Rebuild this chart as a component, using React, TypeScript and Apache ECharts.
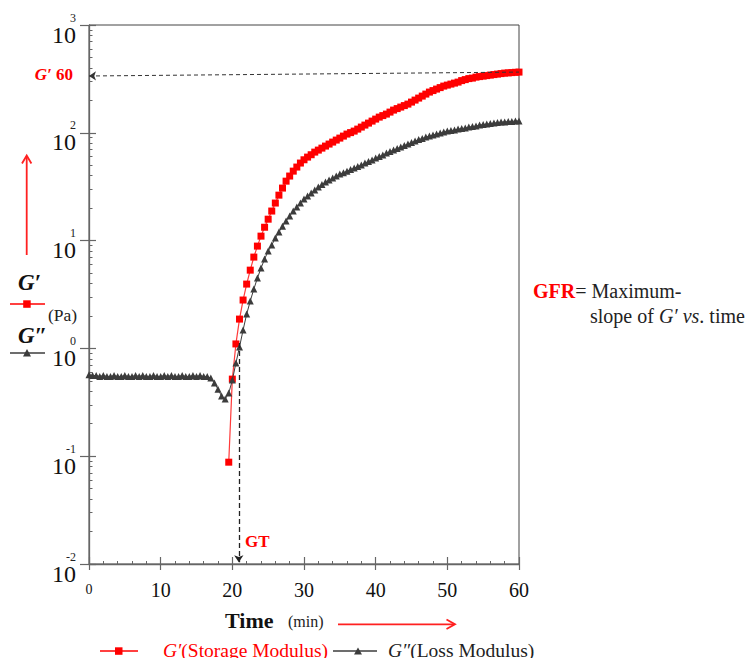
import React, { useEffect, useRef } from 'react';
import * as echarts from 'echarts';

// Time (min), sampled every 0.5 min
const TIME = [
  0, 0.5, 1, 1.5, 2, 2.5, 3, 3.5, 4, 4.5,
  5, 5.5, 6, 6.5, 7, 7.5, 8, 8.5, 9, 9.5,
  10, 10.5, 11, 11.5, 12, 12.5, 13, 13.5, 14, 14.5,
  15, 15.5, 16, 16.5, 17, 17.5, 18, 18.5, 19, 19.5,
  20, 20.5, 21, 21.5, 22, 22.5, 23, 23.5, 24, 24.5,
  25, 25.5, 26, 26.5, 27, 27.5, 28, 28.5, 29, 29.5,
  30, 30.5, 31, 31.5, 32, 32.5, 33, 33.5, 34, 34.5,
  35, 35.5, 36, 36.5, 37, 37.5, 38, 38.5, 39, 39.5,
  40, 40.5, 41, 41.5, 42, 42.5, 43, 43.5, 44, 44.5,
  45, 45.5, 46, 46.5, 47, 47.5, 48, 48.5, 49, 49.5,
  50, 50.5, 51, 51.5, 52, 52.5, 53, 53.5, 54, 54.5,
  55, 55.5, 56, 56.5, 57, 57.5, 58, 58.5, 59, 59.5,
  60,
];

// G'' (Loss Modulus, Pa), one value per TIME entry
const LOSS = [
  0.57, 0.56, 0.56, 0.55, 0.56, 0.55, 0.55, 0.56, 0.55, 0.55,
  0.56, 0.55, 0.55, 0.56, 0.55, 0.56, 0.55, 0.55, 0.56, 0.55,
  0.55, 0.56, 0.55, 0.56, 0.55, 0.55, 0.56, 0.55, 0.55, 0.56,
  0.55, 0.56, 0.55, 0.55, 0.53, 0.477, 0.419, 0.361, 0.339, 0.385,
  0.508, 0.731, 1.03, 1.48, 2.08, 2.75, 3.55, 4.49, 5.56, 6.74,
  7.99, 9.08, 10.55, 12.0, 13.6, 15.2, 16.9, 18.8, 20.5, 22.3,
  24.3, 25.9, 27.6, 29.4, 31.4, 33.1, 34.9, 36.4, 38.0, 39.7,
  41.4, 42.7, 44.1, 45.6, 47.1, 48.6, 50.2, 52.4, 54.1, 55.8,
  58.3, 60.2, 62.1, 64.8, 66.9, 69.1, 71.4, 73.7, 76.1, 78.6,
  81.1, 83.8, 86.5, 88.4, 91.2, 93.2, 95.2, 97.3, 99.4, 101.5,
  103.7, 104.8, 105.9, 108.2, 109.4, 110.6, 113.0, 114.2, 115.4, 117.9,
  119.2, 120.4, 121.7, 123.0, 124.3, 125.7, 126.2, 127.0, 127.6, 128.4,
  128.9,
];

// G' (Storage Modulus, Pa), measured from 19.5 min to 60 min (last TIME entries)
const STORAGE = [
  0.088,
  0.519, 1.10, 1.87, 2.81, 3.95, 5.32, 7.03, 8.89, 11.0, 13.3,
  15.8, 18.8, 22.3, 26.4, 30.7, 35.6, 39.7, 44.1, 48.1, 52.4,
  56.2, 59.5, 62.6, 66.2, 69.1, 72.1, 75.3, 78.6, 82.0, 85.6,
  89.3, 93.2, 97.3, 100.4, 103.7, 108.2, 113.0, 117.9, 123.0, 128.4,
  134.0, 139.8, 144.4, 149.1, 155.6, 162.4, 167.7, 173.2, 178.8, 184.6,
  192.7, 201.1, 209.9, 219.0, 228.6, 238.6, 246.4, 254.4, 262.6, 271.2,
  277.0, 283.0, 289.1, 295.3, 304.9, 311.5, 318.3, 321.7, 328.6, 332.2,
  335.7, 339.3, 343.0, 346.7, 350.4, 354.2, 358.0, 359.5, 361.8, 364.1,
  365.7,
];

// Axis definitions
const X_MIN = 0;
const X_MAX = 60;
const X_INTERVAL = 10;
const Y_MIN = 0.01;
const Y_MAX = 1000;
const Y_DECADES = [-2, -1, 0, 1, 2, 3];
const MINOR_MULTIPLIERS = [2, 3, 4, 5, 6, 7, 8, 9];

// Annotations
const GT_TIME = 20.9;
const GT_TOP = 1.12;
const GT_BOTTOM = 0.0104;
const G60_LEFT_RATIO = 0.92;

const FONT = '"Liberation Serif", "Times New Roman", serif';
const RED = '#ff0000';
const DARK = '#3c3c3c';

export default function App() {
  const ref = useRef<HTMLDivElement>(null);

  useEffect(() => {
    if (!ref.current) return;
    const chart = echarts.init(ref.current, null, { renderer: 'svg' });

    const storageTime = TIME.slice(TIME.length - STORAGE.length);
    const storageData = STORAGE.map((v, i) => [storageTime[i], v]);
    const lossData = LOSS.map((v, i) => [TIME[i], v]);
    const g60 = STORAGE[STORAGE.length - 1];

    const minorLogTicks: number[] = [];
    Y_DECADES.slice(0, -1).forEach((d) => {
      MINOR_MULTIPLIERS.forEach((m) => minorLogTicks.push(d + Math.log10(m)));
    });

    const axisGray = '#666';

    const option: any = {
      animation: false,
      backgroundColor: '#ffffff',
      grid: {
        left: 89,
        right: 229,
        top: 25,
        bottom: 94,
        show: true,
        borderColor: '#444',
        borderWidth: 1,
        backgroundColor: 'transparent',
        containLabel: false,
        outerBoundsMode: 'none',
      },
      xAxis: [
        {
          type: 'value',
          min: X_MIN,
          max: X_MAX,
          interval: X_INTERVAL,
          position: 'bottom',
          axisLine: { show: true, onZero: false, lineStyle: { color: axisGray, width: 1.3 } },
          axisTick: { show: true, inside: false, length: 6, lineStyle: { color: axisGray, width: 1.2 } },
          splitLine: { show: false },
          axisLabel: {
            margin: 16,
            color: '#111',
            fontFamily: FONT,
            formatter: (v: number) => (v === 0 ? '{s|0}' : `{b|${v}}`),
            rich: {
              s: { fontSize: 14, lineHeight: 18, fontFamily: FONT, color: '#111' },
              b: { fontSize: 20, lineHeight: 20, fontFamily: FONT, color: '#111' },
            },
          },
        },
        {
          type: 'value',
          min: X_MIN,
          max: X_MAX,
          interval: X_INTERVAL,
          position: 'bottom',
          axisLine: { show: false, onZero: false },
          axisTick: { show: true, inside: true, length: 7, lineStyle: { color: axisGray, width: 1.2 } },
          minorTick: { show: true, splitNumber: 5, length: 3, lineStyle: { color: axisGray, width: 1 } },
          splitLine: { show: false },
          axisLabel: { show: false },
        },
      ],
      yAxis: [
        {
          type: 'log',
          logBase: 10,
          min: Y_MIN,
          max: Y_MAX,
          position: 'left',
          axisLine: { show: true, onZero: false, lineStyle: { color: axisGray, width: 1.3 } },
          axisTick: { show: true, inside: false, length: 9, lineStyle: { color: axisGray, width: 1.2 } },
          splitLine: { show: false },
          axisLabel: {
            margin: 13,
            padding: [7, 0, 0, 0],
            formatter: (v: number) => {
              const e = Math.round(Math.log10(v));
              return `{e|${e}}\n{b|10}`;
            },
            rich: {
              e: { fontSize: 12, lineHeight: 12, fontFamily: FONT, color: '#222' },
              b: { fontSize: 24, lineHeight: 22, fontFamily: FONT, color: '#111' },
            },
          },
        },
        {
          type: 'value',
          min: Y_DECADES[0],
          max: Y_DECADES[Y_DECADES.length - 1],
          interval: 1,
          position: 'left',
          axisLine: { show: false, onZero: false },
          axisTick: { show: true, inside: true, length: 7, lineStyle: { color: axisGray, width: 1.2 } },
          splitLine: { show: false },
          axisLabel: { show: false },
        },
        {
          type: 'value',
          min: Y_DECADES[0],
          max: Y_DECADES[Y_DECADES.length - 1],
          position: 'left',
          axisLine: { show: false, onZero: false },
          axisTick: {
            show: true,
            inside: true,
            length: 3.5,
            customValues: minorLogTicks,
            lineStyle: { color: axisGray, width: 1 },
          },
          splitLine: { show: false },
          axisLabel: { show: false },
        },
      ],
      series: [
        {
          name: "G'",
          type: 'line',
          data: storageData,
          symbol: 'rect',
          symbolSize: 7,
          itemStyle: { color: RED },
          lineStyle: { color: '#ff3a3a', width: 1.2 },
          z: 2,
          markLine: {
            silent: true,
            symbol: ['arrow', 'none'],
            symbolSize: 7,
            label: { show: false },
            lineStyle: { color: '#333', type: [4, 3], width: 1 },
            data: [[{ coord: [X_MIN, g60 * G60_LEFT_RATIO] }, { coord: [X_MAX, g60] }]],
          },
        },
        {
          name: "G''",
          type: 'line',
          data: lossData,
          symbol: 'triangle',
          symbolSize: 7,
          itemStyle: { color: DARK },
          lineStyle: { color: DARK, width: 1 },
          z: 3,
          markLine: {
            silent: true,
            symbol: ['none', 'arrow'],
            symbolSize: 7,
            label: { show: false },
            lineStyle: { color: '#222', type: [5, 3], width: 1.3 },
            data: [[{ coord: [GT_TIME, GT_TOP] }, { coord: [GT_TIME, GT_BOTTOM] }]],
          },
        },
      ],
      graphic: [
        // left vertical red arrow
        { type: 'line', shape: { x1: 26.7, y1: 255, x2: 26.7, y2: 156 }, style: { stroke: '#ff2020', lineWidth: 1.8 } },
        {
          type: 'polyline',
          shape: { points: [[22, 163.5], [26.7, 155.5], [31.4, 163.5]] },
          style: { stroke: '#ff2020', lineWidth: 1.8, fill: null },
        },
        {
          type: 'text',
          x: 18,
          y: 282,
          style: { text: 'G′', fontFamily: FONT, fontSize: 23, fontWeight: 'bold', fontStyle: 'italic', fill: '#111', verticalAlign: 'middle' },
        },
        { type: 'line', shape: { x1: 10, y1: 304, x2: 45, y2: 304 }, style: { stroke: RED, lineWidth: 1.3 } },
        { type: 'rect', shape: { x: 23.2, y: 300.3, width: 7.5, height: 7.5 }, style: { fill: RED } },
        {
          type: 'text',
          x: 48,
          y: 315,
          style: { text: '(Pa)', fontFamily: FONT, fontSize: 17.5, fill: '#222', verticalAlign: 'middle' },
        },
        {
          type: 'text',
          x: 18,
          y: 335,
          style: { text: 'G″', fontFamily: FONT, fontSize: 23, fontWeight: 'bold', fontStyle: 'italic', fill: '#111', verticalAlign: 'middle' },
        },
        { type: 'line', shape: { x1: 10, y1: 353, x2: 45, y2: 353 }, style: { stroke: DARK, lineWidth: 1.3 } },
        { type: 'polygon', shape: { points: [[23, 356.5], [27, 349], [31, 356.5]] }, style: { fill: DARK } },
        // G'60 label
        {
          type: 'text',
          x: 73,
          y: 74,
          style: {
            text: '{i|G′} {b|60}',
            align: 'right',
            verticalAlign: 'middle',
            fill: RED,
            fontFamily: FONT,
            fontSize: 17,
            fontWeight: 'bold',
            rich: {
              i: { fontFamily: FONT, fontSize: 17, fontWeight: 'bold', fontStyle: 'italic', fill: RED },
              b: { fontFamily: FONT, fontSize: 17, fontWeight: 'bold', fill: RED },
            },
          },
        },
        // GT label
        {
          type: 'text',
          x: 245,
          y: 541,
          style: { text: 'GT', fontFamily: FONT, fontSize: 17, fontWeight: 'bold', fill: RED, verticalAlign: 'middle' },
        },
        // x axis title
        {
          type: 'text',
          x: 225,
          y: 620,
          style: { text: 'Time', fontFamily: FONT, fontSize: 22, fontWeight: 'bold', fill: '#111', verticalAlign: 'middle' },
        },
        {
          type: 'text',
          x: 288,
          y: 621,
          style: { text: '(min)', fontFamily: FONT, fontSize: 16, fill: '#222', verticalAlign: 'middle' },
        },
        { type: 'line', shape: { x1: 338, y1: 624.3, x2: 454, y2: 624.3 }, style: { stroke: '#ff2020', lineWidth: 1.8 } },
        {
          type: 'polyline',
          shape: { points: [[446.5, 619.5], [455, 624.3], [446.5, 629]] },
          style: { stroke: '#ff2020', lineWidth: 1.8, fill: null },
        },
        // legend
        { type: 'line', shape: { x1: 100, y1: 651, x2: 138, y2: 651 }, style: { stroke: RED, lineWidth: 1.3 } },
        { type: 'rect', shape: { x: 115, y: 647.3, width: 7.5, height: 7.5 }, style: { fill: RED } },
        {
          type: 'text',
          x: 163,
          y: 650,
          style: {
            text: '{i|G′}(Storage Modulus)',
            fill: RED,
            fontFamily: FONT,
            fontSize: 19.5,
            verticalAlign: 'middle',
            rich: { i: { fontFamily: FONT, fontSize: 19.5, fontStyle: 'italic', fill: RED } },
          },
        },
        { type: 'line', shape: { x1: 333, y1: 651, x2: 377, y2: 651 }, style: { stroke: DARK, lineWidth: 1.3 } },
        { type: 'polygon', shape: { points: [[354, 654.5], [358, 647.5], [362, 654.5]] }, style: { fill: DARK } },
        {
          type: 'text',
          x: 388,
          y: 650,
          style: {
            text: '{i|G″}(Loss Modulus)',
            fill: '#222',
            fontFamily: FONT,
            fontSize: 19.5,
            verticalAlign: 'middle',
            rich: { i: { fontFamily: FONT, fontSize: 19.5, fontStyle: 'italic', fill: '#222' } },
          },
        },
        // GFR text
        {
          type: 'text',
          x: 533,
          y: 291,
          style: {
            text: '{r|GFR}= Maximum-',
            fill: '#222',
            fontFamily: FONT,
            fontSize: 20,
            verticalAlign: 'middle',
            rich: { r: { fontFamily: FONT, fontSize: 20, fontWeight: 'bold', fill: RED } },
          },
        },
        {
          type: 'text',
          x: 590,
          y: 316,
          style: {
            text: 'slope of {i|G′} {i|vs}. time',
            fill: '#222',
            fontFamily: FONT,
            fontSize: 20,
            verticalAlign: 'middle',
            rich: { i: { fontFamily: FONT, fontSize: 20, fontStyle: 'italic', fill: '#222' } },
          },
        },
      ],
    };

    chart.setOption(option);
    return () => chart.dispose();
  }, []);

  return (
    <div
      ref={ref}
      style={{ position: 'fixed', left: 0, top: 0, width: 748, height: 658, background: '#fff' }}
    />
  );
}
